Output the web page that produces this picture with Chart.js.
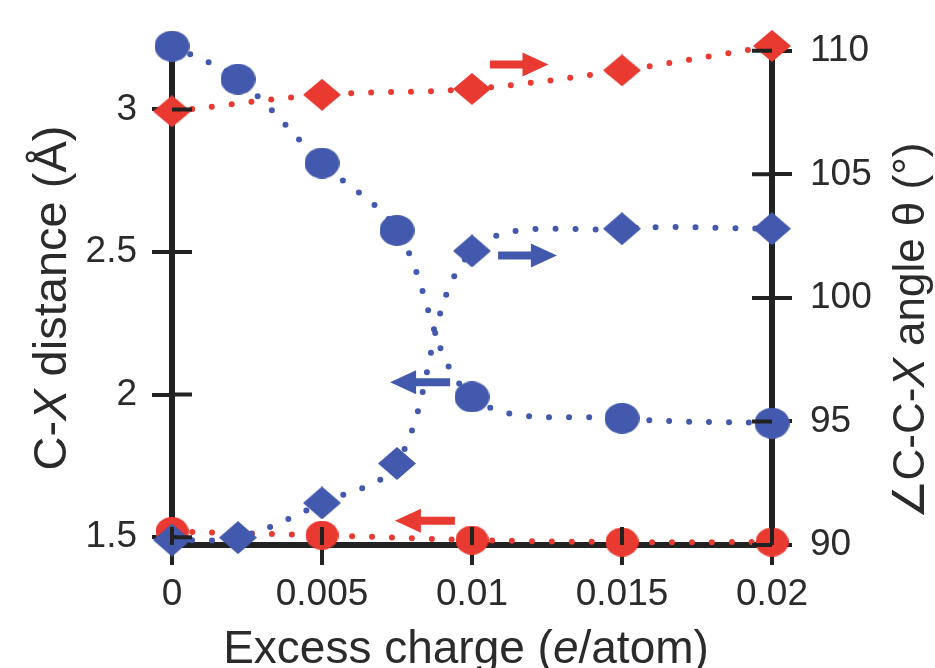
<!DOCTYPE html>
<html>
<head>
<meta charset="utf-8">
<script src="https://cdn.jsdelivr.net/npm/chart.js@4"></script>
<style>
  html, body { margin: 0; background: #fff; }
  #wrap { width: 935px; height: 668px; }
</style>
</head>
<body>
<div id="wrap"><canvas id="chart" width="935" height="668"></canvas></div>
<script>
// values
const chargeBlue = [0, 0.0022, 0.005, 0.0075, 0.01, 0.015, 0.02];
const chargeRed = [0, 0.005, 0.01, 0.015, 0.02];
const distBlue = [3.222, 3.106, 2.812, 2.576, 1.992, 1.917, 1.9];
const angleBlue = [90.2, 90.3, 91.7, 93.3, 101.9, 102.8, 102.8];
const distRed = [1.52, 1.507, 1.49, 1.483, 1.483];
const angleRed = [107.55, 108.22, 108.46, 109.21, 110.2];

const xTicks = [0, 0.005, 0.01, 0.015, 0.02];
const distTicks = [1.5, 2, 2.5, 3];
const angleTicks = [90, 95, 100, 105, 110];

const BLUE = "#4359ad";
const RED = "#e83a30";
const AXIS = "#222";
const TEXT = "#2b2b2b";
const FONT = "'Liberation Sans', Arial, sans-serif";

// arrows pointing to the axis each series belongs to (data coords)
const arrows = [
  { from: 0.0106, to: 0.01255, at: 109.45, axis: "y1", color: RED },
  { from: 0.01087, to: 0.01283, at: 101.72, axis: "y1", color: BLUE },
  { from: 0.00927, to: 0.00727, at: 2.043, axis: "y", color: BLUE },
  { from: 0.00943, to: 0.00743, at: 1.558, axis: "y", color: RED },
];

function marker(shape, w, h, color) {
  const c = document.createElement("canvas");
  c.width = w;
  c.height = h;
  const g = c.getContext("2d");
  g.fillStyle = color;
  g.beginPath();
  if (shape === "circle") {
    g.ellipse(w / 2, h / 2, w / 2, h / 2, 0, 0, Math.PI * 2);
  } else {
    g.moveTo(w / 2, 0);
    g.lineTo(w, h / 2);
    g.lineTo(w / 2, h);
    g.lineTo(0, h / 2);
    g.closePath();
  }
  g.fill();
  return c;
}

const pts = (xs, ys) => xs.map((x, i) => ({ x: x, y: ys[i] }));

const dotted = (color) => ({
  borderColor: color,
  borderWidth: 6,
  borderDash: [0, 20],
  borderCapStyle: "round",
  tension: 0.35,
  pointRadius: 17,
  clip: false,
});

function richText(ctx, parts, size) {
  const fonts = parts.map((p) => (p[1] ? "italic " : "") + size + "px " + FONT);
  let total = 0;
  const widths = parts.map((p, i) => {
    ctx.font = fonts[i];
    const w = ctx.measureText(p[0]).width;
    total += w;
    return w;
  });
  let x = -total / 2;
  parts.forEach((p, i) => {
    ctx.font = fonts[i];
    ctx.fillText(p[0], x, 0);
    x += widths[i];
  });
}

const extras = {
  id: "extras",
  afterDatasetsDraw(chart) {
    const { ctx, scales } = chart;
    ctx.save();
    arrows.forEach((a) => {
      const x0 = scales.x.getPixelForValue(a.from);
      const x1 = scales.x.getPixelForValue(a.to);
      const y = scales[a.axis].getPixelForValue(a.at);
      const dir = Math.sign(x1 - x0);
      const head = 26;
      const xh = x1 - dir * head;
      ctx.fillStyle = a.color;
      ctx.beginPath();
      ctx.moveTo(x0, y - 4);
      ctx.lineTo(xh, y - 4);
      ctx.lineTo(xh, y - 12);
      ctx.lineTo(x1, y);
      ctx.lineTo(xh, y + 12);
      ctx.lineTo(xh, y + 4);
      ctx.lineTo(x0, y + 4);
      ctx.closePath();
      ctx.fill();
    });
    ctx.restore();
  },
  afterDraw(chart) {
    const { ctx, chartArea, scales } = chart;
    ctx.save();
    // inner half of the crossing tick marks
    ctx.strokeStyle = AXIS;
    ctx.lineWidth = 4;
    ctx.beginPath();
    scales.x.ticks.forEach((t) => {
      const px = scales.x.getPixelForValue(t.value);
      ctx.moveTo(px, chartArea.bottom);
      ctx.lineTo(px, chartArea.bottom - 18);
    });
    scales.y.ticks.forEach((t) => {
      const py = scales.y.getPixelForValue(t.value);
      ctx.moveTo(chartArea.left, py);
      ctx.lineTo(chartArea.left + 20, py);
    });
    scales.y1.ticks.forEach((t) => {
      const py = scales.y1.getPixelForValue(t.value);
      ctx.moveTo(chartArea.right, py);
      ctx.lineTo(chartArea.right - 20, py);
    });
    ctx.stroke();

    // axis titles
    ctx.fillStyle = TEXT;
    ctx.textBaseline = "alphabetic";
    ctx.save();
    ctx.translate((chartArea.left + chartArea.right) / 2 - 6, chart.height - 5);
    richText(ctx, [["Excess charge (", false], ["e", true], ["/atom)", false]], 46);
    ctx.restore();

    ctx.save();
    ctx.translate(66, 298);
    ctx.rotate(-Math.PI / 2);
    richText(ctx, [["C-", false], ["X", true], [" distance (Å)", false]], 47);
    ctx.restore();

    ctx.save();
    ctx.translate(924, 331);
    ctx.rotate(-Math.PI / 2);
    richText(ctx, [["∠C-C-", false], ["X", true], [" angle θ (°)", false]], 44);
    ctx.restore();
    ctx.restore();
  },
};

const tickFont = { family: FONT, size: 37 };

new Chart(document.getElementById("chart"), {
  type: "line",
  data: {
    datasets: [
      { ...dotted(BLUE), data: pts(chargeBlue, angleBlue), yAxisID: "y1",
        pointStyle: marker("diamond", 38, 33, BLUE) },
      { ...dotted(BLUE), data: pts(chargeBlue, distBlue), yAxisID: "y",
        pointStyle: marker("circle", 35, 31, BLUE) },
      { ...dotted(RED), data: pts(chargeRed, angleRed), yAxisID: "y1",
        pointStyle: marker("diamond", 38, 32, RED) },
      { ...dotted(RED), data: pts(chargeRed, distRed), yAxisID: "y",
        pointStyle: marker("circle", 33, 29, RED) },
    ],
  },
  options: {
    responsive: false,
    animation: false,
    devicePixelRatio: 1,
    layout: { padding: { top: 27 } },
    plugins: { legend: { display: false }, tooltip: { enabled: false } },
    scales: {
      x: {
        type: "linear",
        min: 0,
        max: 0.02,
        z: 1,
        afterBuildTicks: (s) => { s.ticks = xTicks.map((v) => ({ value: v })); },
        afterFit: (s) => { s.height = 123; },
        border: { color: AXIS, width: 6 },
        grid: { drawOnChartArea: false, color: AXIS, lineWidth: 4, tickLength: 20 },
        ticks: { color: TEXT, font: tickFont, padding: 8, maxRotation: 0, autoSkip: false,
          callback: (v) => String(v) },
      },
      y: {
        position: "left",
        min: 1.4727,
        max: 3.2426,
        z: 1,
        afterBuildTicks: (s) => { s.ticks = distTicks.map((v) => ({ value: v })); },
        afterFit: (s) => { s.width = 172; },
        border: { color: AXIS, width: 6 },
        grid: { drawOnChartArea: false, color: AXIS, lineWidth: 4, tickLength: 20 },
        ticks: { color: TEXT, font: tickFont, padding: 15, autoSkip: false,
          callback: (v) => String(v) },
      },
      y1: {
        position: "right",
        min: 90,
        max: 110.43,
        z: 1,
        afterBuildTicks: (s) => { s.ticks = angleTicks.map((v) => ({ value: v })); },
        afterFit: (s) => { s.width = 163; },
        border: { color: AXIS, width: 6 },
        grid: { drawOnChartArea: false, color: AXIS, lineWidth: 4, tickLength: 20 },
        ticks: { color: TEXT, font: tickFont, padding: 18, autoSkip: false,
          callback: (v) => String(v) },
      },
    },
  },
  plugins: [extras],
});
</script>
</body>
</html>
